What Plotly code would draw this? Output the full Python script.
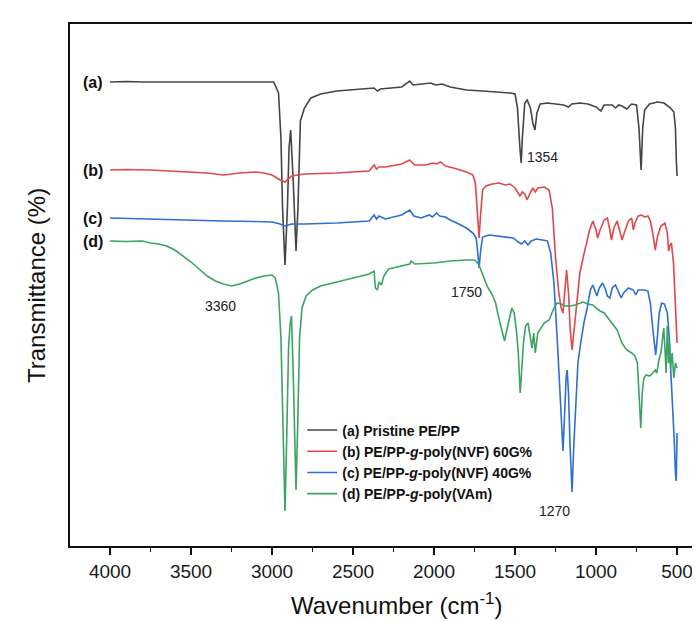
import plotly.graph_objects as go

# ---- data (wavenumber cm^-1, offset transmittance in arbitrary units) ----
WN_A = [4000, 3900, 3800, 3700, 3600, 3500, 3300, 3100, 2990, 2960, 2945, 2935, 2920, 2905, 2895, 2885,
        2870, 2852, 2840, 2825, 2800, 2760, 2700, 2600, 2500, 2400, 2370, 2350, 2330, 2200, 2150, 2130,
        2050, 2020, 1990, 1950, 1900, 1800, 1700, 1600, 1530, 1500, 1485, 1470, 1462, 1455, 1440, 1425,
        1405, 1390, 1377, 1365, 1345, 1300, 1250, 1200, 1170, 1150, 1100, 1050, 1000, 970, 950, 900,
        880, 860, 840, 810, 780, 750, 735, 722, 712, 700, 670, 620, 580, 540, 520, 510, 505, 500]
T_A = [464, 464.5, 464, 464, 463.5, 464, 464, 464, 464, 453, 408, 338, 281, 338, 398, 416,
       368, 295, 338, 425, 438, 448, 452, 455, 456, 457, 458, 455, 457, 459, 465, 461,
       462, 463, 461, 462, 459, 456, 455, 454, 453, 452, 438, 398, 383, 408, 443, 446,
       438, 423, 416, 433, 442, 443, 442, 441, 439, 442, 443, 442, 439, 435, 441, 441,
       438, 441, 440, 437, 442, 441, 418, 376, 418, 436, 442, 444, 443, 438, 434, 418, 388, 370]

WN_B = [4000, 3900, 3750, 3600, 3500, 3400, 3300, 3200, 3100, 3050, 3000, 2950, 2920, 2880, 2800, 2600,
        2400, 2370, 2355, 2340, 2300, 2200, 2150, 2120, 2050, 2010, 1985, 1960, 1930, 1880, 1800, 1760,
        1745, 1732, 1722, 1712, 1700, 1680, 1640, 1600, 1560, 1530, 1500, 1470, 1455, 1440, 1425, 1410,
        1390, 1375, 1360, 1320, 1290, 1270, 1250, 1230, 1215, 1204, 1192, 1182, 1170, 1160, 1148, 1135,
        1115, 1100, 1080, 1060, 1040, 1020, 1000, 990, 975, 950, 930, 915, 905, 890, 870, 850,
        840, 820, 800, 780, 770, 760, 740, 720, 700, 680, 665, 650, 635, 620, 600, 575,
        560, 552, 545, 535, 522, 512, 505, 500]
T_B = [376, 376.5, 376, 375, 374, 373, 371, 373, 374, 373, 371, 366, 364, 370, 372, 373,
       375, 381, 377, 379, 379, 382, 386, 381, 381, 383, 382, 384, 380, 378, 374, 371,
       363, 333, 308, 333, 356, 360, 362, 363, 361, 362, 358, 350, 354, 352, 346, 352,
       358, 354, 358, 359, 356, 338, 288, 253, 238, 233, 258, 276, 253, 218, 196, 218,
       253, 273, 288, 303, 316, 325, 316, 308, 316, 326, 328, 316, 306, 318, 325, 313,
       306, 316, 325, 328, 316, 323, 330, 331, 329, 330, 325, 313, 296, 310, 320, 323,
       313, 295, 300, 303, 283, 248, 218, 203]

WN_C = [4000, 3900, 3700, 3500, 3300, 3100, 3000, 2950, 2920, 2880, 2800, 2600, 2400, 2370, 2355, 2340,
        2300, 2200, 2150, 2125, 2080, 2030, 2010, 1985, 1965, 1930, 1900, 1860, 1800, 1760, 1740, 1730,
        1722, 1712, 1700, 1660, 1600, 1550, 1510, 1480, 1460, 1440, 1420, 1400, 1370, 1330, 1300, 1280,
        1260, 1240, 1225, 1215, 1204, 1195, 1185, 1178, 1170, 1160, 1148, 1138, 1125, 1112, 1095, 1075,
        1055, 1035, 1020, 1005, 995, 980, 960, 945, 930, 915, 900, 880, 860, 845, 830, 800,
        770, 755, 740, 700, 680, 665, 650, 640, 632, 622, 610, 595, 578, 560, 548, 538,
        528, 518, 510, 505, 500]
T_C = [328, 327.5, 327, 326, 325, 324.5, 324, 322, 320, 322, 322, 323, 325, 331, 327, 330,
       327, 331, 336, 330, 328, 331, 329, 333, 330, 329, 326, 323, 318, 313, 308, 293,
       278, 296, 309, 311, 310, 309, 308, 304, 302, 305, 301, 305, 307, 306, 305, 293,
       263, 208, 158, 118, 95, 128, 168, 176, 153, 98, 54, 98, 148, 183, 203, 223,
       238, 256, 261, 253, 250, 258, 263, 258, 250, 248, 258, 261, 253, 248, 253, 258,
       256, 251, 256, 256, 255, 243, 218, 198, 191, 208, 233, 243, 242, 233, 208, 173,
       143, 108, 73, 65, 113]

WN_D = [4000, 3900, 3800, 3750, 3700, 3650, 3600, 3550, 3500, 3450, 3400, 3350, 3300, 3250, 3200, 3150,
        3100, 3050, 3000, 2980, 2960, 2945, 2932, 2920, 2908, 2898, 2888, 2880, 2870, 2860, 2852, 2842,
        2830, 2815, 2790, 2750, 2700, 2600, 2500, 2400, 2370, 2362, 2350, 2340, 2325, 2310, 2280, 2200,
        2150, 2140, 2120, 2000, 1900, 1800, 1750, 1725, 1700, 1670, 1640, 1620, 1600, 1580, 1565, 1545,
        1520, 1505, 1490, 1480, 1468, 1458, 1448, 1435, 1420, 1410, 1395, 1385, 1375, 1360, 1340, 1320,
        1290, 1260, 1240, 1215, 1190, 1160, 1130, 1100, 1080, 1050, 1020, 1000, 975, 950, 925, 900,
        870, 840, 820, 800, 780, 760, 745, 735, 724, 715, 705, 690, 670, 650, 635, 625,
        612, 600, 590, 582, 575, 568, 560, 553, 546, 540, 530, 520, 510, 500]
T_D = [305, 304.5, 305, 303, 302, 300, 296, 290, 284, 277, 270, 265, 262, 260, 262, 265,
       268, 270, 271, 268, 253, 208, 118, 35, 118, 198, 223, 230, 178, 98, 56, 118,
       208, 238, 250, 256, 260, 264, 268, 272, 275, 258, 256, 264, 261, 270, 277, 280,
       282, 285, 282, 283, 285, 286, 286, 282, 272, 259, 251, 243, 228, 213, 205, 220,
       238, 233, 213, 193, 153, 178, 203, 220, 223, 213, 198, 213, 193, 213, 218, 223,
       226, 238, 243, 242, 240, 240, 241, 243, 244, 242, 241, 238, 235, 233, 228, 223,
       216, 203, 198, 195, 193, 190, 183, 153, 118, 153, 168, 171, 170, 173, 176, 173,
       186, 193, 205, 218, 198, 173, 220, 183, 203, 178, 193, 168, 183, 178]

SERIES = [
    ("(a) Pristine PE/PP", "(a)", WN_A, T_A, "#454545"),
    ("(b) PE/PP-<i>g</i>-poly(NVF) 60G%", "(b)", WN_B, T_B, "#E2474B"),
    ("(c) PE/PP-<i>g</i>-poly(NVF) 40G%", "(c)", WN_C, T_C, "#2D6FD2"),
    ("(d) PE/PP-<i>g</i>-poly(VAm)", "(d)", WN_D, T_D, "#3BA462"),
]

X_TICKS = [4000, 3500, 3000, 2500, 2000, 1500, 1000, 500]
PEAK_LABELS = [("1354", 1329, 389), ("3360", 3320, 240), ("1750", 1799, 254), ("1270", 1254, 35)]

FONT = "Liberation Sans, Arial, sans-serif"

fig = go.Figure()
for name, tag, wn, t, col in SERIES:
    fig.add_trace(go.Scatter(x=wn, y=t, mode="lines", name=name,
                             line=dict(color=col, width=1.6)))

annotations = []
for name, tag, wn, t, col in SERIES:
    annotations.append(dict(x=wn[0], y=t[0], xref="x", yref="y", text="<b>%s</b>" % tag,
                            showarrow=False, xanchor="right", yanchor="middle", xshift=-5,
                            font=dict(family=FONT, size=16, color="#111111")))
for txt, wx, ty in PEAK_LABELS:
    annotations.append(dict(x=wx, y=ty, xref="x", yref="y", text=txt, showarrow=False,
                            font=dict(family=FONT, size=14, color="#222222")))
annotations.append(dict(x=0.5125, y=-0.1418, xref="paper", yref="paper",
                        text="Wavenumber (cm<sup>-1</sup>)", showarrow=False,
                        xanchor="center", yanchor="bottom", borderpad=0,
                        font=dict(family=FONT, size=24, color="#111111")))
annotations.append(dict(x=-0.0533, y=0.5, xref="paper", yref="paper",
                        text="Transmittance (%)", showarrow=False, textangle=-90,
                        xanchor="center", yanchor="middle",
                        font=dict(family=FONT, size=24, color="#111111")))

fig.update_layout(
    width=700, height=621,
    margin=dict(l=62, r=0, t=16, b=83),
    paper_bgcolor="white", plot_bgcolor="white",
    showlegend=True,
    legend=dict(x=0.364, y=0.252, xanchor="left", yanchor="top",
                bgcolor="rgba(0,0,0,0)", font=dict(family=FONT, size=14, color="#111111", weight="bold"),
                tracegroupgap=0, itemwidth=30),
    annotations=annotations,
    font=dict(family=FONT),
)
fig.update_xaxes(range=[4247, 309], tickvals=X_TICKS, ticks="outside", ticklen=7, tickwidth=1.5,
                 tickcolor="#111111", showline=True, linecolor="#111111", linewidth=2, mirror=True,
                 showgrid=False, zeroline=False,
                 minor=dict(dtick=250, tick0=250, ticks="outside", ticklen=4, tickwidth=1.2, tickcolor="#111111"),
                 tickfont=dict(family=FONT, size=19, color="#1a1a1a"))
fig.update_yaxes(range=[0, 522], showticklabels=False, ticks="", showline=True, linecolor="#111111",
                 linewidth=2, mirror=False, showgrid=False, zeroline=False)

fig.write_html("out.html")
